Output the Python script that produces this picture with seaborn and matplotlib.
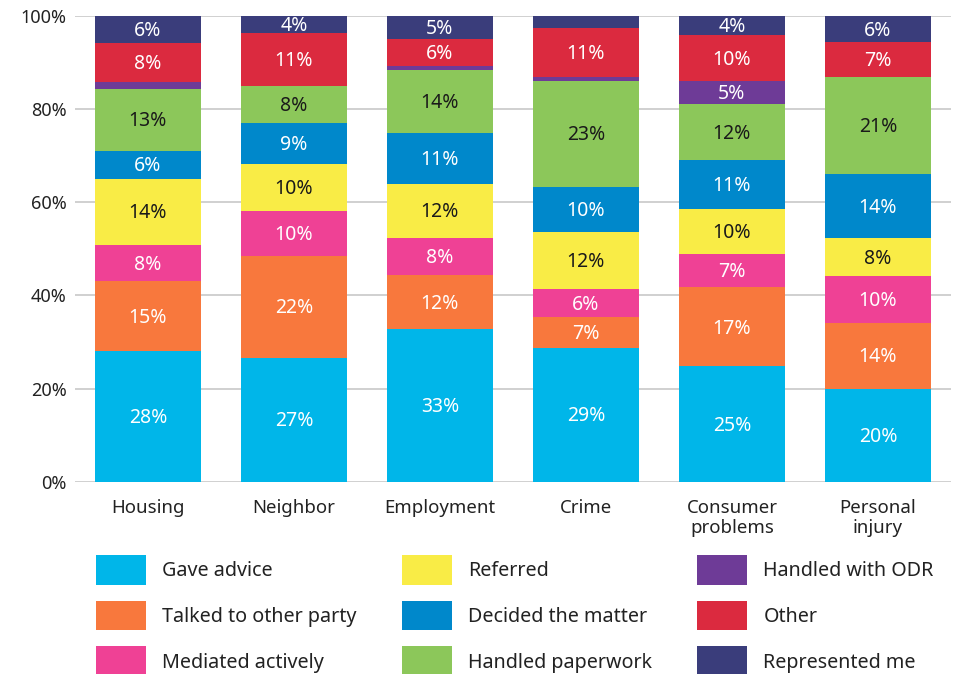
import matplotlib
matplotlib.use("Agg")
import matplotlib.pyplot as plt
import matplotlib.patches as mpatches
import numpy as np
import seaborn as sns

categories = ["Housing", "Neighbor", "Employment", "Crime",
              "Consumer\nproblems", "Personal\ninjury"]

series_names = ["Gave advice", "Talked to other party", "Mediated actively",
                "Referred", "Decided the matter", "Handled paperwork",
                "Handled with ODR", "Other", "Represented me"]

gave_advice = [28.1, 26.6, 32.7, 28.8, 24.8, 20.0]
talked_other_party = [15.0, 21.9, 11.6, 6.6, 16.9, 14.1]
mediated_actively = [7.7, 9.6, 8.1, 6.0, 7.2, 10.1]
referred = [14.3, 10.1, 11.6, 12.3, 9.6, 8.1]
decided_matter = [5.9, 8.8, 10.8, 9.6, 10.6, 13.8]
handled_paperwork = [13.4, 8.0, 13.6, 22.8, 12.0, 20.9]
handled_odr = [1.5, 0.0, 0.8, 0.7, 4.9, 0.0]
other = [8.3, 11.3, 5.8, 10.6, 9.9, 7.4]
represented_me = [5.8, 3.7, 5.0, 2.6, 4.1, 5.6]

series_values = [gave_advice, talked_other_party, mediated_actively, referred,
                 decided_matter, handled_paperwork, handled_odr, other,
                 represented_me]

colors = ["#00B6E9", "#F8783D", "#EF4195", "#F9EC46", "#0088CB",
          "#8CC75A", "#6E3B97", "#DB2A3F", "#3A3D7B"]
dark_text = [False, False, False, True, False, True, False, False, False]

sns.set_theme(style="white")
plt.rcParams["font.family"] = ["Noto Sans", "DejaVu Sans"]

fig = plt.figure(figsize=(9.6, 6.74), dpi=100)
ax = fig.add_axes([0.078, 0.2853, 0.9125, 0.691])

bottom = np.zeros(len(categories))
for name, vals, col, dark in zip(series_names, series_values, colors, dark_text):
    vals = np.asarray(vals, dtype=float)
    sns.barplot(x=categories, y=vals, bottom=bottom, color=col, width=0.726,
                errorbar=None, saturation=1, linewidth=0, ax=ax, label=name)
    container = ax.containers[-1]
    labels = [f"{v:.0f}%" if v >= 3 else "" for v in vals]
    ax.bar_label(container, labels=labels, label_type="center", padding=-1.2,
                 color="#1a1a1a" if dark else "white", fontsize=14)
    bottom += vals

ax.set_ylim(0, 100)
ax.set_xlim(-0.5, len(categories) - 0.5)
ax.set_yticks(np.arange(0, 101, 20))
ax.set_yticklabels([f"{t}%" for t in range(0, 101, 20)])
ax.yaxis.grid(True, color="#C8C8C8", linewidth=1.2)
ax.xaxis.grid(False)
ax.set_axisbelow(True)
for s in ax.spines.values():
    s.set_visible(False)
ax.tick_params(axis="both", length=0, colors="#222222")
ax.tick_params(axis="y", pad=6, labelsize=13)
ax.tick_params(axis="x", pad=12.5, labelsize=13.4)
for lbl in ax.get_xticklabels():
    lbl.set_linespacing(1.12)
ax.set_xlabel("")
ax.set_ylabel("")
if ax.get_legend() is not None:
    ax.get_legend().remove()

handles = [mpatches.Patch(facecolor=c, edgecolor="none") for c in colors]
fig.legend(handles, series_names, ncol=3, loc="upper left",
           bbox_to_anchor=(0.1, 0.177), frameon=False, fontsize=14.2,
           handlelength=2.54, handleheight=1.95, handletextpad=0.81,
           labelspacing=0.81, columnspacing=2.3, borderpad=0,
           borderaxespad=0, labelcolor="#222222")

fig.savefig("out.png", dpi=100)
